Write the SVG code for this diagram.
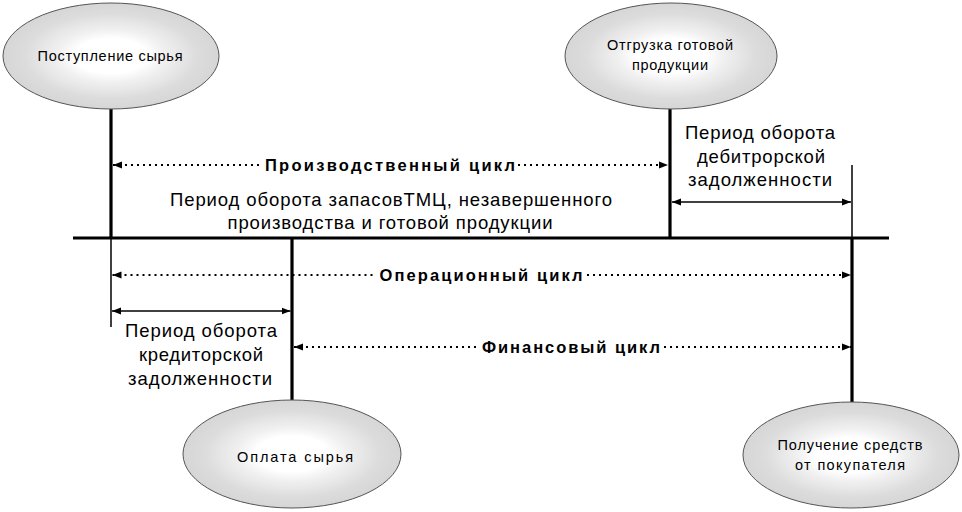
<svg xmlns="http://www.w3.org/2000/svg" width="962" height="512" viewBox="0 0 962 512">
<style>
text{font-family:"Liberation Sans",Arial,sans-serif;fill:#000;text-anchor:middle}
.n{font-size:14.5px}
.p{font-size:18.5px}
.b{font-size:16.5px;font-weight:bold}
.ell{fill:url(#g);stroke:#555;stroke-width:1}
.thick{stroke:#000;stroke-width:3.2;fill:none}
.thin{stroke:#000;stroke-width:1.5;fill:none}
.dot{stroke:#000;stroke-width:2;stroke-dasharray:2 4;fill:none}
.sol{stroke:#000;stroke-width:1.5;fill:none}
</style>
<defs>
<radialGradient id="g" cx="50%" cy="50%" r="50%">
<stop offset="0" stop-color="#ffffff"/>
<stop offset="0.33" stop-color="#ffffff"/>
<stop offset="0.5" stop-color="#f0f0f0"/>
<stop offset="0.66" stop-color="#e6e6e6"/>
<stop offset="0.8" stop-color="#dcdcdc"/>
<stop offset="1" stop-color="#d6d6d6"/>
</radialGradient>
<marker id="ah" markerUnits="userSpaceOnUse" markerWidth="10" markerHeight="8" refX="9" refY="4" orient="auto-start-reverse">
<path d="M0,0.5 L9,4 L0,7.5 z" fill="#000"/>
</marker>
</defs>
<rect width="962" height="512" fill="#fff"/>

<g id="connectors">
<line class="thick" x1="111" y1="108" x2="111" y2="238"/>
<line class="thick" x1="670" y1="108" x2="670" y2="238"/>
<line class="thick" x1="73" y1="238" x2="889" y2="238" stroke-width="3.6"/>
<line class="thin" x1="111" y1="238" x2="111" y2="327"/>
<line class="thin" x1="852" y1="165" x2="852" y2="238"/>
<line class="thick" x1="292" y1="238" x2="292" y2="401"/>
<line class="thick" x1="852" y1="238" x2="852" y2="402"/>

<line class="dot" x1="113" y1="165" x2="262" y2="165" marker-start="url(#ah)"/>
<line class="dot" x1="518" y1="165" x2="668" y2="165" marker-end="url(#ah)"/>
<line class="sol" x1="672" y1="202" x2="851" y2="202" marker-start="url(#ah)" marker-end="url(#ah)"/>
<line class="dot" x1="112.5" y1="275" x2="376" y2="275" marker-start="url(#ah)"/>
<line class="dot" x1="587" y1="275" x2="851" y2="275" marker-end="url(#ah)"/>
<line class="sol" x1="112" y1="311" x2="290.5" y2="311" marker-start="url(#ah)" marker-end="url(#ah)"/>
<line class="dot" x1="294" y1="347" x2="478" y2="347" marker-start="url(#ah)"/>
<line class="dot" x1="664" y1="347" x2="851" y2="347" marker-end="url(#ah)"/>
</g>

<g id="node-postuplenie">
<ellipse class="ell" cx="111" cy="56" rx="108" ry="53"/>
<text class="n" x="110" y="61" textLength="145" lengthAdjust="spacing">Поступление сырья</text>
</g>
<g id="node-otgruzka">
<ellipse class="ell" cx="671" cy="56" rx="106" ry="53"/>
<text class="n" x="670" y="50" textLength="126" lengthAdjust="spacing">Отгрузка готовой</text>
<text class="n" x="670" y="70" textLength="76" lengthAdjust="spacing">продукции</text>
</g>
<g id="node-oplata">
<ellipse class="ell" cx="292" cy="454" rx="109" ry="54"/>
<text class="n" x="295" y="462" textLength="116" lengthAdjust="spacing">Оплата сырья</text>
</g>
<g id="node-poluchenie">
<ellipse class="ell" cx="851" cy="455" rx="108" ry="53"/>
<text class="n" x="850" y="450" textLength="145" lengthAdjust="spacing">Получение средств</text>
<text class="n" x="850" y="470" textLength="110" lengthAdjust="spacing">от  покупателя</text>
</g>

<g id="labels">
<text class="b" x="390" y="171" textLength="250" lengthAdjust="spacing">Производственный цикл</text>
<text class="p" x="391" y="206" textLength="442" lengthAdjust="spacing">Период оборота запасовТМЦ, незавершенного</text>
<text class="p" x="390" y="229" textLength="325" lengthAdjust="spacing">производства и готовой продукции</text>
<text class="p" x="760" y="139" textLength="150" lengthAdjust="spacing">Период оборота</text>
<text class="p" x="761" y="163" textLength="128" lengthAdjust="spacing">дебитрорской</text>
<text class="p" x="760" y="186" textLength="144" lengthAdjust="spacing">задолженности</text>
<text class="b" x="481" y="281" textLength="203" lengthAdjust="spacing">Операционный цикл</text>
<text class="p" x="201" y="337" textLength="152" lengthAdjust="spacing">Период оборота</text>
<text class="p" x="201" y="361" textLength="124" lengthAdjust="spacing">кредиторской</text>
<text class="p" x="200" y="385" textLength="144" lengthAdjust="spacing">задолженности</text>
<text class="b" x="571" y="353" textLength="178" lengthAdjust="spacing">Финансовый цикл</text>
</g>
</svg>
